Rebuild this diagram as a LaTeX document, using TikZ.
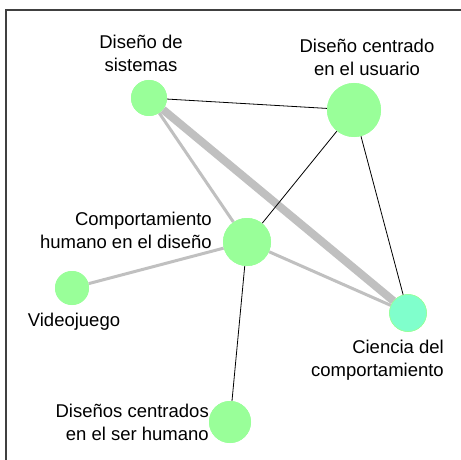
\documentclass[tikz,border=0pt]{standalone}
\usepackage{fontspec}
\setmainfont{Liberation Sans}
\usepackage{tikz}

\definecolor{nodegreen}{HTML}{99FF99}
\definecolor{nodeaqua}{HTML}{80FFCC}
\definecolor{edgegray}{HTML}{C0C0C0}

\tikzset{
  topic/.style={circle, fill=nodegreen, inner sep=0pt},
  weak/.style={black, line width=0.8pt},
  gray/.style={edgegray, line width=3pt},
  lbl/.style={font=\fontsize{18.5}{23}\selectfont, inner sep=0pt}
}

\begin{document}
\begin{tikzpicture}[x=1pt,y=-1pt]
                \useasboundingbox (0,0) rectangle (461,460);
                \draw[line width=1.5pt, black!75] (6,10) rectangle (480,480);
                % topic circles
                \node[topic, minimum size=36pt] (sis) at (149,98) {};
                \node[topic, minimum size=54pt] (usu) at (354,110) {};
                \node[topic, minimum size=48pt] (hum) at (247,242) {};
                \node[topic, minimum size=34pt] (vid) at (72,288) {};
                \node[topic, minimum size=37pt, fill=nodeaqua, draw=nodegreen, line width=0.6pt] (cie) at (408,313) {};
                \node[topic, minimum size=42pt] (ser) at (230,422) {};
                % links
                \draw[edgegray, line width=8pt] (sis) -- (cie);
                \draw[gray] (sis) -- (hum);
                \draw[gray] (hum) -- (vid);
                \draw[gray] (hum) -- (cie);
                \draw[weak] (sis) -- (usu);
                \draw[weak] (usu) -- (hum);
                \draw[weak] (usu) -- (cie);
                \draw[weak] (hum) -- (ser);
                % redraw circles over the links
                \node[topic, minimum size=36pt] at (sis) {};
                \node[topic, minimum size=54pt] at (usu) {};
                \node[topic, minimum size=48pt] at (hum) {};
                \node[topic, minimum size=34pt] at (vid) {};
                \node[topic, minimum size=37pt, fill=nodeaqua, draw=nodegreen, line width=0.6pt] at (cie) {};
                \node[topic, minimum size=42pt] at (ser) {};
                % labels (base = last line)
                \node[lbl, align=center, anchor=base] (sislbl) at (141,72) {Diseño de\\sistemas};
                \node[lbl, align=center, anchor=base] (usulbl) at (367,76) {Diseño centrado\\en el usuario};
                \node[lbl, align=right, anchor=base east] (humlbl) at (212,248) {Comportamiento\\humano en el diseño};
                \node[lbl, anchor=base] (vidlbl) at (74,326) {Videojuego};
                \node[lbl, align=right, anchor=base east] (cielbl) at (444,376) {Ciencia del\\comportamiento};
                \node[lbl, align=right, anchor=base east] (serlbl) at (209,440) {Diseños centrados\\en el ser humano};
            \end{tikzpicture}
\end{document}
